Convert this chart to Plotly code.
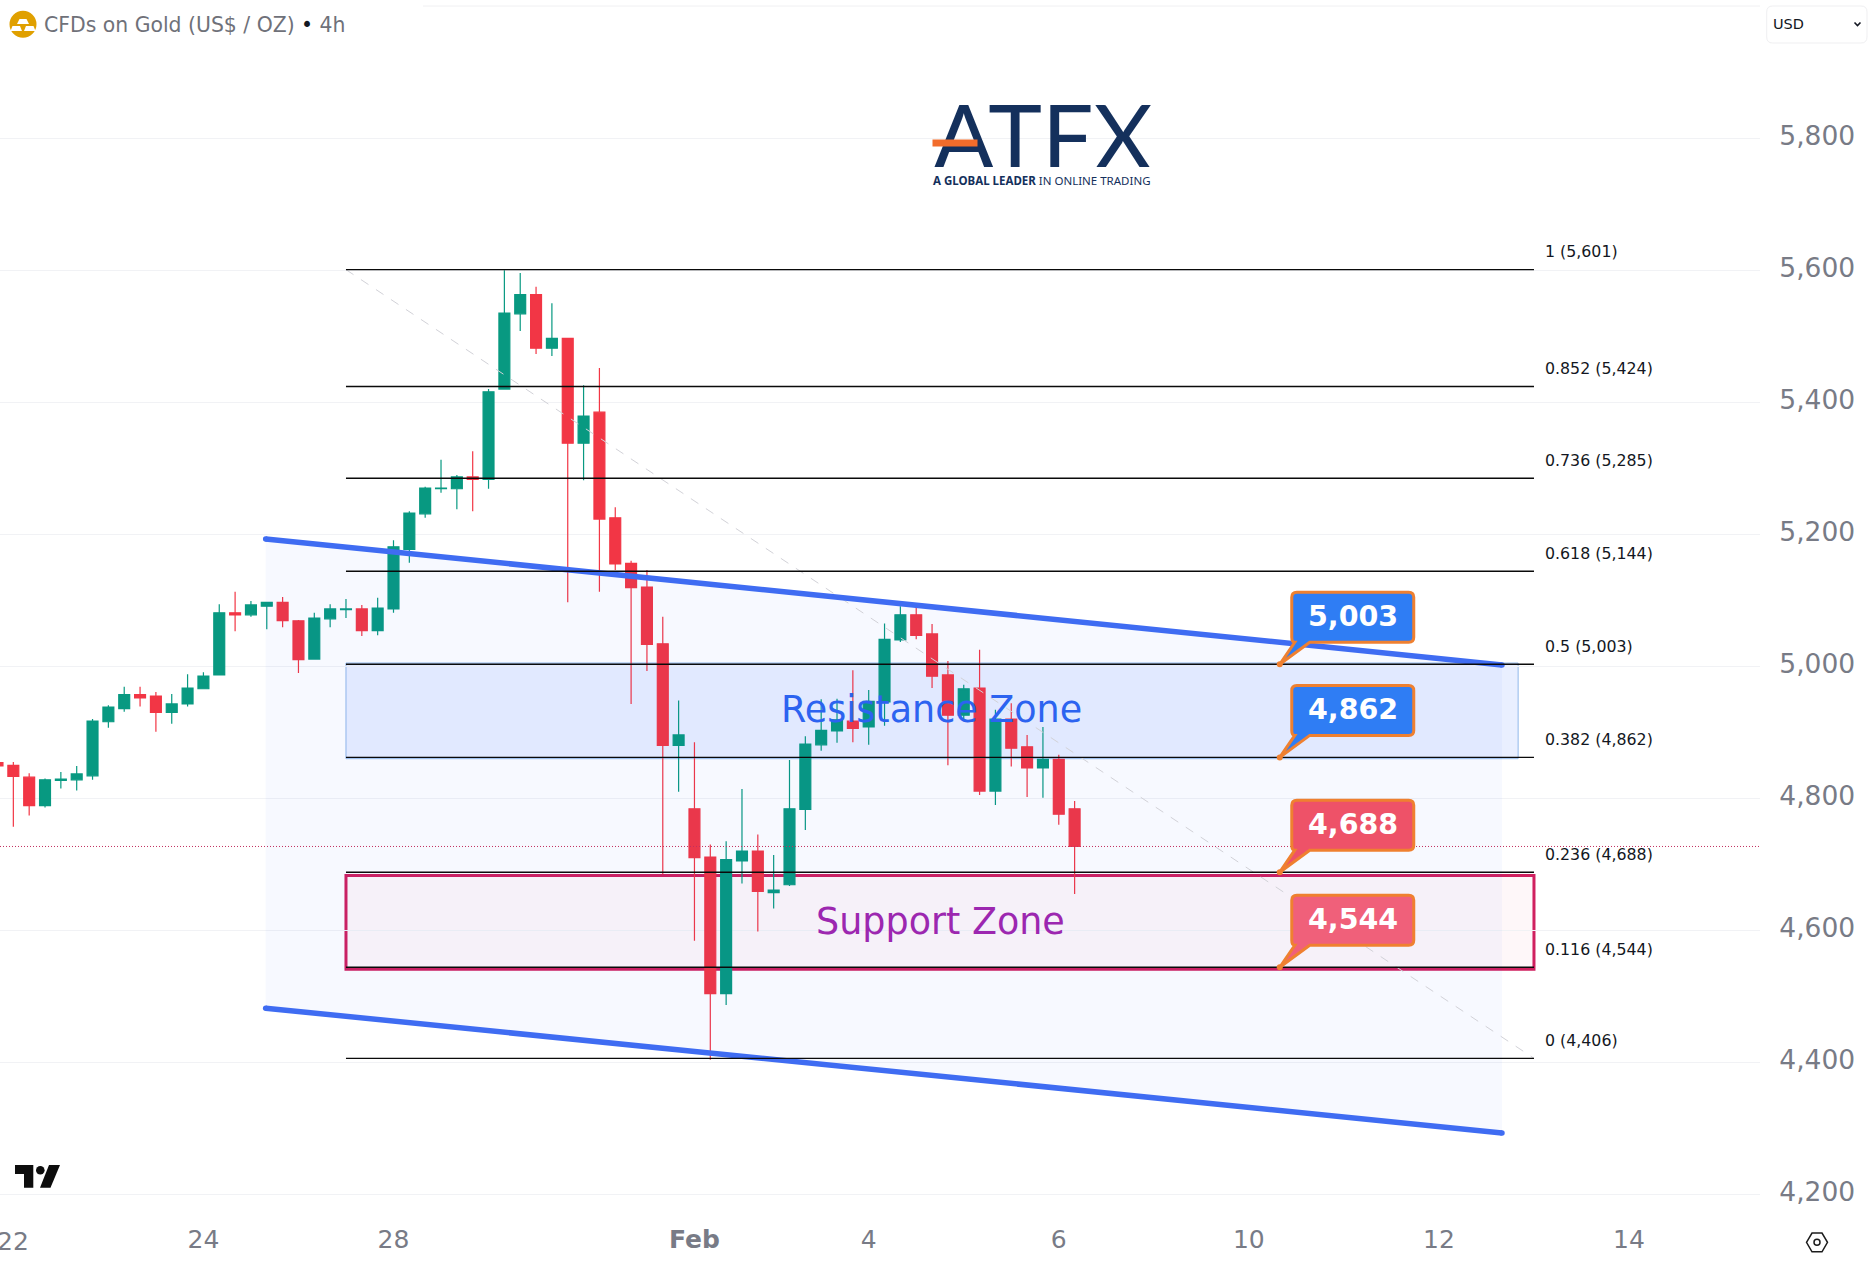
import plotly.graph_objects as go

# ---------- data ----------
opens = [4854,4850,4832,4789,4827,4828,4834,4916,4936,4957,
         4955,4930,4943,4966,4987,5081,5078,5091,5097,5069,
         5011,5072,5086,5087,5054,5087,5177,5231,5269,5269,
         5287,5283,5420,5534,5563,5482,5497,5338,5385,5225,
         5156,5120,5034,4880,4784,4711,4504,4705,4720,4657,
         4669,4783,4881,4902,4917,4908,4946,5040,5078,5049,
         4987,4926,4967,4811,4920,4878,4846,4859,4784]
highs = [4856,4855,4838,4830,4840,4849,4920,4941,4969,4969,
         4961,4958,4988,4991,5094,5113,5099,5097,5105,5070,
         5081,5094,5102,5093,5104,5191,5235,5272,5313,5290,
         5326,5420,5600,5596,5575,5550,5497,5426,5452,5241,
         5160,5146,5075,4948,4885,4730,4735,4814,4745,4714,
         4858,4894,4950,4951,4994,4964,5065,5091,5093,5064,
         5008,4972,5025,4934,4944,4896,4908,4866,4796]
lows = [4847,4757,4774,4786,4815,4812,4828,4907,4931,4939,
        4901,4913,4939,4966,4987,5053,5075,5056,5059,4990,
        5011,5059,5073,5046,5047,5081,5157,5225,5263,5238,
        5235,5269,5419,5508,5473,5470,5097,5282,5113,5146,
        4943,4993,4685,4810,4584,4404,4487,4671,4598,4633,
        4667,4752,4872,4884,4885,4881,4910,5037,5041,4967,
        4850,4920,4805,4790,4848,4802,4801,4760,4655]
closes = [4849,4833,4789,4828,4829,4837,4917,4938,4957,4952,
          4930,4943,4967,4985,5081,5078,5093,5097,5069,5010,
          5073,5087,5087,5054,5088,5181,5232,5270,5270,5287,
          5283,5416,5535,5563,5482,5497,5338,5379,5223,5155,
          5119,5033,4880,4896,4710,4504,4707,4720,4659,4661,
          4784,4882,4903,4919,4906,4947,5041,5078,5047,4985,
          4926,4966,4811,4920,4876,4846,4859,4776,4727]
candle_index = list(range(len(opens)))

x_edge_tick = (1, "22")     # sits at the page edge, drawn as a text of its own
x_tick_positions = [13, 25, 44, 55, 67, 79, 91, 103]
x_tick_labels = ["24", "28", "<b>Feb</b>", "4", "6", "10", "12", "14"]
y_tick_values = [4200, 4400, 4600, 4800, 5000, 5200, 5400, 5600, 5800]

fib_ratios = ["1", "0.852", "0.736", "0.618", "0.5", "0.382", "0.236", "0.116", "0"]
fib_levels = [5601, 5424, 5285, 5144, 5003, 4862, 4688, 4544, 4406]
fib_x = [22, 97]

channel_x = [16.93, 94.98]
channel_upper = [5193, 5002]
channel_lower = [4482, 4293]

resistance_zone = [4860, 5005]
resistance_x = [22, 96]
support_zone = [4541, 4683]
support_x = [22, 97]

callout_levels = [5003, 4862, 4688, 4544]
callout_fills = ["#2f7df4", "#2f7df4", "#ee5268", "#f0607a"]
callout_x = 80.95
current_price = closes[-1]

# ---------- geometry helpers (pixels of the 1872x1275 page <-> axes) ----------
W, H = 1872, 1275
L, R, T, B = 0, 1760, 6, 1215
STEP, X0 = 15.84, -2.5
PXP = 0.66            # pixels per price unit
Y5000 = 666.3

def xd(px):
    return (px - X0) / STEP
def xp(d):
    return X0 + d * STEP
def yd(py):
    return 5000 + (Y5000 - py) / PXP
def yp(d):
    return Y5000 - (d - 5000) * PXP
def pap_x(px):
    return px / (R - L)
def pap_y(py):
    return (B - py) / (B - T)
def ppath(cmds):
    """paper-space SVG path from pixel commands"""
    out = []
    for c in cmds:
        if isinstance(c, str):
            out.append(c)
        else:
            out.append(f"{pap_x(c[0]):.5f},{pap_y(c[1]):.5f}")
    return " ".join(out)

FONT = "DejaVu Sans"
GREY = "#787b86"
fig = go.Figure()

# channel fill + lines
fig.add_trace(go.Scatter(
    x=[channel_x[0], channel_x[1], channel_x[1], channel_x[0], channel_x[0]],
    y=[channel_upper[0], channel_upper[1], channel_lower[1], channel_lower[0], channel_upper[0]],
    mode="lines", line=dict(width=0), fill="toself",
    fillcolor="rgba(41,98,255,0.035)", hoverinfo="skip", showlegend=False))

# zones
fig.add_shape(type="rect", x0=resistance_x[0], x1=resistance_x[1], y0=resistance_zone[0], y1=resistance_zone[1],
              fillcolor="rgba(41,98,255,0.10)", line=dict(color="#90b8ea", width=1), layer="below")
fig.add_shape(type="rect", x0=support_x[0], x1=support_x[1], y0=support_zone[0], y1=support_zone[1],
              fillcolor="rgba(233,30,99,0.035)", line=dict(color="#d0205f", width=3), layer="below")

# diagonal of fib
fig.add_trace(go.Scatter(x=fib_x, y=[fib_levels[0], fib_levels[-1]], mode="lines",
                         line=dict(color="#d2d2d8", width=1, dash="dash"),
                         hoverinfo="skip", showlegend=False))

for up in (channel_upper, channel_lower):
    fig.add_trace(go.Scatter(x=channel_x, y=up, mode="lines+markers",
                             marker=dict(color="#3f6cf2", size=5.5, line=dict(width=0)),
                             line=dict(color="#3f6cf2", width=5.5), hoverinfo="skip", showlegend=False))

for lv in fib_levels:
    fig.add_trace(go.Scatter(x=fib_x, y=[lv, lv], mode="lines",
                             line=dict(color="#0a0a0a", width=1.4), hoverinfo="skip", showlegend=False))

# candles
fig.add_trace(go.Candlestick(
    x=candle_index, open=opens, high=highs, low=lows, close=closes,
    increasing=dict(line=dict(color="#089981", width=1.2), fillcolor="#089981"),
    decreasing=dict(line=dict(color="#f23645", width=1.2), fillcolor="#f23645"),
    whiskerwidth=0, showlegend=False, hoverinfo="skip"))

# current price line
fig.add_shape(type="line", xref="paper", x0=0, x1=1, y0=current_price, y1=current_price,
              line=dict(color="#c2305f", width=1, dash="1px,2px"), layer="above")

annotations = []

# fib labels
for r_, lv in zip(fib_ratios, fib_levels):
    annotations.append(dict(x=xd(1543), y=lv, xref="x", yref="y", text=f"{r_} ({lv:,})",
                            showarrow=False, xanchor="left", yanchor="middle", yshift=18,
                            font=dict(family=FONT, size=15.8, color="#131722")))

# callouts
for lv, col in zip(callout_levels, callout_fills):
    ax, ay = xp(callout_x), yp(lv)
    x0, x1, y0, y1, rr = ax + 12, ax + 134, ay - 72, ay - 22, 5
    def P(px, py):
        return f"{xd(px):.4f},{yd(py):.3f}"
    path = (f"M {P(x0+rr,y0)} L {P(x1-rr,y0)} Q {P(x1,y0)} {P(x1,y0+rr)} L {P(x1,y1-rr)} "
            f"Q {P(x1,y1)} {P(x1-rr,y1)} L {P(x0+18,y1)} L {P(ax,ay)} L {P(x0+3,y1)} "
            f"Q {P(x0,y1)} {P(x0,y1-rr)} L {P(x0,y0+rr)} Q {P(x0,y0)} {P(x0+rr,y0)} Z")
    fig.add_shape(type="path", path=path, xref="x", yref="y", fillcolor=col,
                  line=dict(color="#ef8030", width=3), layer="above")
    fig.add_shape(type="circle", xref="x", yref="y", x0=xd(ax-3), x1=xd(ax+3), y0=yd(ay+3), y1=yd(ay-3),
                  fillcolor="#ef8030", line=dict(width=0), layer="above")
    annotations.append(dict(x=xd((x0+x1)/2), y=yd((y0+y1)/2 - 1.2), xref="x", yref="y", text=f"<b>{lv:,}</b>",
                            showarrow=False, xanchor="center", yanchor="middle",
                            font=dict(family=FONT, size=28.5, color="#ffffff")))

# zone labels
annotations.append(dict(x=xd(931), y=yd(709.5), xref="x", yref="y", text="Resistance Zone", showarrow=False,
                        font=dict(family=FONT, size=36.5, color="#2c63f0"), xanchor="center", yanchor="middle"))
annotations.append(dict(x=xd(940), y=yd(921), xref="x", yref="y", text="Support Zone", showarrow=False,
                        font=dict(family=FONT, size=36.5, color="#9c27b0"), xanchor="center", yanchor="middle"))

# edge tick label
annotations.append(dict(x=x_edge_tick[0], y=pap_y(1241), xref="x", yref="paper", text=x_edge_tick[1], showarrow=False,
                        xanchor="center", yanchor="middle", font=dict(family=FONT, size=25, color=GREY)))

# header
annotations.append(dict(x=pap_x(41.5), y=pap_y(25), xref="paper", yref="paper", xanchor="left", yanchor="middle",
                        text='CFDs on Gold (US$ / OZ) <span style="color:#131722">•</span> 4h', showarrow=False,
                        font=dict(family=FONT, size=20.4, color="#6f7179")))
annotations.append(dict(x=pap_x(1771), y=pap_y(24), xref="paper", yref="paper", xanchor="left", yanchor="middle",
                        text="USD", showarrow=False, font=dict(family=FONT, size=14.5, color="#131722")))

# logo
annotations.append(dict(x=pap_x(1042), y=pap_y(134), xref="paper", yref="paper", xanchor="center", yanchor="middle",
                        text="ATFX", showarrow=False, height=66, font=dict(family="Lato", size=91, color="#14305c")))
annotations.append(dict(x=pap_x(955), y=pap_y(143), xref="paper", yref="paper", xanchor="center", yanchor="middle",
                        text=" ", showarrow=False, width=44, height=6, bgcolor="#f26c2b", borderpad=0,
                        font=dict(size=4)))
annotations.append(dict(x=pap_x(1042), y=pap_y(180), xref="paper", yref="paper", xanchor="center", yanchor="middle",
                        text="<b>A GLOBAL LEADER</b> IN ONLINE TRADING", showarrow=False,
                        font=dict(family="Noto Sans", size=11.5, color="#14305c")))

shapes = []
# gold icon
shapes.append(dict(type="circle", xref="paper", yref="paper", x0=pap_x(9.5), x1=pap_x(36.5),
                   y0=pap_y(37.8), y1=pap_y(10.8), fillcolor="#e0a000", line=dict(width=0), layer="above"))
for pts in ([(19.5,19),(26.5,19),(29,24),(17,24)], [(12.5,26),(20,26),(22,31),(10.5,31)], [(26,26),(33.5,26),(35.5,31),(24,31)]):
    shapes.append(dict(type="path", xref="paper", yref="paper",
                       path=ppath(["M", pts[0], "L", pts[1], "L", pts[2], "L", pts[3], "Z"]),
                       fillcolor="#ffffff", line=dict(width=0), layer="above"))
# top rule
shapes.append(dict(type="line", xref="paper", yref="paper", x0=pap_x(423), x1=1, y0=pap_y(6), y1=pap_y(6),
                   line=dict(color="#f0f0f2", width=1), layer="above"))
# USD box + chevron
def rounded(x0, y0, x1, y1, r):
    return ppath(["M", (x0+r,y0), "L", (x1-r,y0), "Q", (x1,y0), (x1,y0+r), "L", (x1,y1-r), "Q", (x1,y1), (x1-r,y1),
                  "L", (x0+r,y1), "Q", (x0,y1), (x0,y1-r), "L", (x0,y0+r), "Q", (x0,y0), (x0+r,y0), "Z"])
shapes.append(dict(type="path", xref="paper", yref="paper", path=rounded(1766.7,6,1867,43,6),
                   line=dict(color="#efeff1", width=1), fillcolor="#ffffff", layer="above"))
shapes.append(dict(type="path", xref="paper", yref="paper", path=ppath(["M",(1854.5,22.5),"L",(1857.5,25.5),"L",(1860.5,22.5)]),
                   line=dict(color="#131722", width=1.6), layer="above"))
# tradingview mark
shapes.append(dict(type="path", xref="paper", yref="paper",
                   path=ppath(["M",(15,1165),"L",(33.3,1165),"L",(33.3,1187.7),"L",(24,1187.7),"L",(24,1174),"L",(15,1174),"Z"]),
                   fillcolor="#0d0d0d", line=dict(width=0), layer="above"))
shapes.append(dict(type="circle", xref="paper", yref="paper", x0=pap_x(36), x1=pap_x(44.6), y0=pap_y(1174.6), y1=pap_y(1166),
                   fillcolor="#0d0d0d", line=dict(width=0), layer="above"))
shapes.append(dict(type="path", xref="paper", yref="paper",
                   path=ppath(["M",(49,1165),"L",(60,1165),"L",(50.5,1187.7),"L",(40,1187.7),"Z"]),
                   fillcolor="#0d0d0d", line=dict(width=0), layer="above"))
# settings hexagon
shapes.append(dict(type="path", xref="paper", yref="paper",
                   path=ppath(["M",(1806.5,1242.3),"L",(1812,1233),"L",(1822,1233),"L",(1827.5,1242.3),"L",(1822,1251.8),"L",(1812,1251.8),"Z"]),
                   line=dict(color="#1c1c1c", width=1.5), layer="above"))
shapes.append(dict(type="circle", xref="paper", yref="paper", x0=pap_x(1814), x1=pap_x(1820), y0=pap_y(1245.3), y1=pap_y(1239.3),
                   line=dict(color="#1c1c1c", width=1.5), layer="above"))

for s in shapes:
    fig.add_shape(**s)

fig.update_layout(
    width=W, height=H, paper_bgcolor="#ffffff", plot_bgcolor="#ffffff",
    margin=dict(l=L, r=W - R, t=T, b=H - B, pad=0),
    showlegend=False, boxgap=0.31, boxgroupgap=0,
    annotations=annotations, hovermode=False,
    xaxis=dict(range=[xd(L), xd(R)], tickmode="array", tickvals=x_tick_positions, ticktext=x_tick_labels,
               showgrid=False, zeroline=False, showline=False, ticks="outside", ticklen=2, tickcolor="rgba(0,0,0,0)",
               tickangle=0, tickfont=dict(family=FONT, size=25, color=GREY), rangeslider=dict(visible=False)),
    yaxis=dict(range=[yd(B), yd(T)], side="right", tickmode="array", tickvals=y_tick_values,
               tickformat=",", showgrid=True, gridcolor="#f1f2f5", gridwidth=1, zeroline=False, showline=False,
               ticks="outside", ticklen=13, tickcolor="rgba(0,0,0,0)", ticklabelshift=-3,
               tickfont=dict(family=FONT, size=26.5, color=GREY)),
)

fig.write_html("out.html", config=dict(displayModeBar=False),
               post_script="document.body.style.margin='0';document.body.style.overflow='hidden';")
